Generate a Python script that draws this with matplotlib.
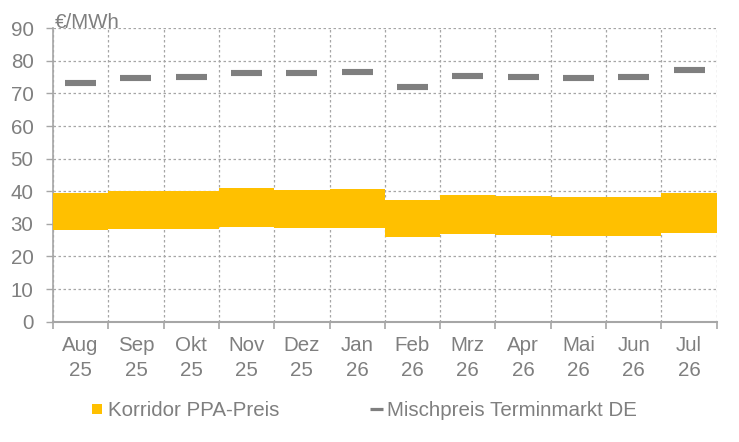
import matplotlib
matplotlib.use("Agg")
import matplotlib.pyplot as plt
from matplotlib.lines import Line2D
import numpy as np

months = ["Aug\n25", "Sep\n25", "Okt\n25", "Nov\n25", "Dez\n25", "Jan\n26",
          "Feb\n26", "Mrz\n26", "Apr\n26", "Mai\n26", "Jun\n26", "Jul\n26"]
ppa_low = [28.1, 28.4, 28.4, 29.0, 28.6, 28.7, 26.0, 26.9, 26.6, 26.3, 26.3, 27.2]
ppa_high = [39.6, 40.1, 40.1, 41.0, 40.4, 40.7, 37.3, 38.9, 38.6, 38.3, 38.3, 39.6]
terminmarkt = [73.2, 74.8, 75.1, 76.3, 76.3, 76.6, 72.0, 75.4, 75.1, 74.8, 75.1, 77.2]
yticks = [0, 10, 20, 30, 40, 50, 60, 70, 80, 90]

plt.rcParams['font.family'] = ['Liberation Sans', 'DejaVu Sans']
gray = '#7F7F7F'
grid_c = '#A6A6A6'
orange = '#FFC000'
fs = 14.8

fig = plt.figure(figsize=(7.39, 4.42), dpi=100)
ax = fig.add_axes([0.0717, 0.2722, 0.8981, 0.6638])

x = np.arange(len(months))
low = np.array(ppa_low)
high = np.array(ppa_high)
ax.bar(x, high - low, bottom=low, width=1.0, color=orange, linewidth=0, zorder=3)
ax.hlines(terminmarkt, x - 0.28, x + 0.28, colors=gray, linewidth=4.4, zorder=3)

ax.set_xlim(-0.5, len(months) - 0.5)
ax.set_ylim(0, 90)
ax.set_yticks(yticks)
ax.set_xticks(np.arange(len(months) + 1) - 0.5)
ax.set_xticklabels([])
ax.set_xticks(x, minor=True)
ax.set_xticklabels(months, minor=True)

ax.tick_params(axis='y', length=5, color=grid_c, width=1.0, labelsize=fs, labelcolor=gray, pad=9)
ax.tick_params(axis='x', which='major', length=5, color=grid_c, width=1.2)
ax.tick_params(axis='x', which='minor', length=0, labelsize=fs, labelcolor=gray, pad=10)
for lbl in ax.get_xticklabels(minor=True):
    lbl.set_linespacing(1.4)

ax.grid(True, which='major', axis='both', color=grid_c, linestyle=(0, (2, 2)), linewidth=0.9, zorder=0)
for s in ['top', 'right']:
    ax.spines[s].set_visible(False)
ax.spines['left'].set_color(grid_c)
ax.spines['bottom'].set_color(grid_c)
ax.spines['bottom'].set_linewidth(1.5)
ax.spines['left'].set_linewidth(1.2)
ax.set_axisbelow(True)

fig.text(55 / 739, 1 - 22 / 442, "€/MWh", color=gray, fontsize=fs, va='center', ha='left')

leg_y = 1 - 411 / 442
common = dict(frameon=False, fontsize=fs, handlelength=0.63, handletextpad=0.2,
              borderpad=0, borderaxespad=0, loc='center left')
h1 = Line2D([0], [0], marker='s', markersize=6.5, markerfacecolor=orange,
            markeredgewidth=0, linestyle='none')
h2 = Line2D([0], [0], color=gray, linewidth=2.3, solid_capstyle='butt')
leg1 = fig.legend([h1], ["Korridor PPA-Preis"], bbox_to_anchor=(91 / 739, leg_y), **common)
leg2 = fig.legend([h2], ["Mischpreis Terminmarkt DE"], bbox_to_anchor=(370 / 739, leg_y), **common)
for leg in (leg1, leg2):
    for t in leg.get_texts():
        t.set_color(gray)

fig.savefig("out.png", dpi=100)
